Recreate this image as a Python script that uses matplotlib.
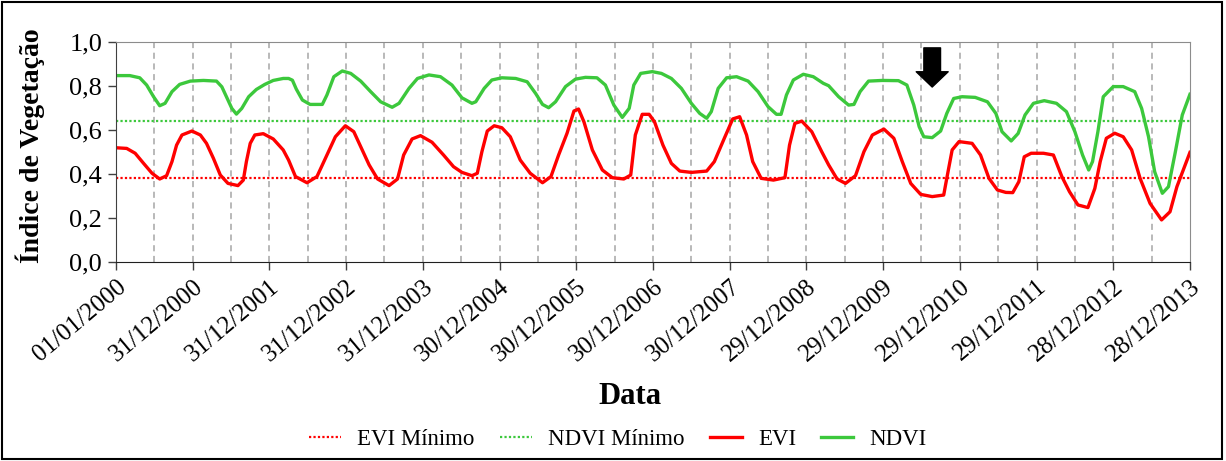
import matplotlib
matplotlib.use('Agg')
import matplotlib.pyplot as plt
from matplotlib.patches import Rectangle

# tempo em anos desde 01/01/2000 (1 ano = 365 dias no eixo)
ndvi_t = [0.00, 0.18, 0.31, 0.40, 0.49, 0.57, 0.64, 0.73, 0.83, 0.97,
          1.14, 1.31, 1.38, 1.44, 1.51, 1.57, 1.64, 1.73, 1.83, 1.94,
          2.05, 2.18, 2.25, 2.30, 2.35, 2.43, 2.53, 2.69, 2.75, 2.84,
          2.95, 3.06, 3.19, 3.32, 3.45, 3.60, 3.69, 3.82, 3.93, 4.08,
          4.23, 4.38, 4.51, 4.64, 4.69, 4.80, 4.90, 5.03, 5.21, 5.36,
          5.47, 5.56, 5.64, 5.73, 5.86, 5.99, 6.12, 6.27, 6.38, 6.49,
          6.60, 6.69, 6.75, 6.84, 6.99, 7.11, 7.24, 7.37, 7.50, 7.61,
          7.70, 7.76, 7.85, 7.96, 8.09, 8.24, 8.37, 8.50, 8.61, 8.67,
          8.74, 8.83, 8.96, 9.09, 9.22, 9.29, 9.42, 9.55, 9.62, 9.70,
          9.81, 9.99, 10.20, 10.31, 10.40, 10.47, 10.53, 10.64, 10.75, 10.83,
          10.92, 11.03, 11.20, 11.36, 11.47, 11.55, 11.67, 11.76, 11.85, 11.96,
          12.10, 12.26, 12.39, 12.50, 12.60, 12.68, 12.73, 12.80, 12.87, 13.00,
          13.13, 13.28, 13.37, 13.46, 13.54, 13.64, 13.72, 13.81, 13.90, 14.00]
ndvi = [0.846, 0.846, 0.836, 0.803, 0.750, 0.709, 0.720, 0.773, 0.806, 0.821,
        0.824, 0.821, 0.795, 0.750, 0.697, 0.671, 0.697, 0.750, 0.783, 0.806,
        0.824, 0.833, 0.833, 0.825, 0.785, 0.735, 0.715, 0.715, 0.758, 0.841,
        0.867, 0.856, 0.821, 0.773, 0.727, 0.702, 0.720, 0.788, 0.833, 0.849,
        0.841, 0.803, 0.745, 0.720, 0.727, 0.788, 0.826, 0.836, 0.833, 0.818,
        0.765, 0.715, 0.700, 0.727, 0.796, 0.830, 0.838, 0.836, 0.803, 0.712,
        0.656, 0.697, 0.803, 0.856, 0.864, 0.856, 0.833, 0.788, 0.720, 0.674,
        0.652, 0.682, 0.788, 0.836, 0.841, 0.821, 0.773, 0.705, 0.670, 0.670,
        0.758, 0.826, 0.852, 0.841, 0.811, 0.800, 0.750, 0.712, 0.715, 0.773,
        0.821, 0.824, 0.823, 0.803, 0.712, 0.614, 0.568, 0.564, 0.594, 0.674,
        0.742, 0.750, 0.747, 0.727, 0.674, 0.591, 0.549, 0.583, 0.667, 0.720,
        0.732, 0.720, 0.682, 0.591, 0.485, 0.417, 0.455, 0.591, 0.750, 0.796,
        0.796, 0.773, 0.697, 0.568, 0.409, 0.311, 0.341, 0.500, 0.667, 0.761]

evi_t = [0.00, 0.14, 0.25, 0.36, 0.47, 0.57, 0.66, 0.73, 0.79, 0.86,
         0.99, 1.10, 1.18, 1.27, 1.36, 1.46, 1.59, 1.66, 1.70, 1.75,
         1.81, 1.92, 2.05, 2.18, 2.25, 2.34, 2.49, 2.62, 2.73, 2.86,
         2.99, 3.10, 3.19, 3.30, 3.41, 3.56, 3.67, 3.75, 3.86, 3.97,
         4.12, 4.27, 4.40, 4.51, 4.64, 4.71, 4.77, 4.84, 4.93, 5.03,
         5.14, 5.27, 5.40, 5.56, 5.67, 5.77, 5.88, 5.97, 6.03, 6.10,
         6.21, 6.34, 6.47, 6.62, 6.71, 6.77, 6.86, 6.95, 7.02, 7.13,
         7.24, 7.35, 7.50, 7.70, 7.80, 7.93, 8.04, 8.13, 8.22, 8.30,
         8.41, 8.57, 8.72, 8.78, 8.85, 8.94, 9.07, 9.20, 9.29, 9.40,
         9.51, 9.64, 9.75, 9.86, 10.01, 10.14, 10.25, 10.36, 10.49, 10.64,
         10.79, 10.83, 10.90, 10.99, 11.16, 11.27, 11.38, 11.49, 11.60, 11.69,
         11.77, 11.84, 11.93, 12.09, 12.22, 12.33, 12.43, 12.54, 12.67, 12.76,
         12.83, 12.91, 13.02, 13.13, 13.24, 13.35, 13.48, 13.63, 13.74, 13.83,
         14.00]
evi = [0.518, 0.515, 0.493, 0.447, 0.402, 0.376, 0.391, 0.455, 0.530, 0.576,
       0.594, 0.576, 0.538, 0.470, 0.394, 0.356, 0.346, 0.371, 0.455, 0.538,
       0.576, 0.582, 0.558, 0.508, 0.462, 0.387, 0.359, 0.387, 0.470, 0.568,
       0.618, 0.591, 0.523, 0.440, 0.376, 0.346, 0.376, 0.485, 0.558, 0.573,
       0.543, 0.485, 0.432, 0.406, 0.391, 0.402, 0.500, 0.594, 0.618, 0.609,
       0.568, 0.462, 0.402, 0.359, 0.387, 0.485, 0.584, 0.685, 0.694, 0.636,
       0.508, 0.417, 0.382, 0.376, 0.394, 0.576, 0.670, 0.670, 0.636, 0.530,
       0.447, 0.412, 0.406, 0.412, 0.455, 0.561, 0.649, 0.659, 0.576, 0.455,
       0.379, 0.371, 0.382, 0.530, 0.629, 0.639, 0.591, 0.500, 0.440, 0.376,
       0.356, 0.391, 0.500, 0.576, 0.603, 0.561, 0.455, 0.356, 0.306, 0.296,
       0.303, 0.379, 0.508, 0.546, 0.538, 0.485, 0.379, 0.326, 0.315, 0.314,
       0.364, 0.477, 0.493, 0.493, 0.485, 0.387, 0.318, 0.258, 0.246, 0.333,
       0.455, 0.561, 0.584, 0.568, 0.508, 0.379, 0.265, 0.190, 0.227, 0.341,
       0.497]

evi_min = 0.38
ndvi_min = 0.64

tick_labels = ['01/01/2000', '31/12/2000', '31/12/2001', '31/12/2002', '31/12/2003',
               '30/12/2004', '30/12/2005', '30/12/2006', '30/12/2007', '29/12/2008',
               '29/12/2009', '29/12/2010', '29/12/2011', '28/12/2012', '28/12/2013']

seta_t = 10.64  # posicao da seta (anos)

RED = '#FF0000'
GREEN = '#3CC83C'

plt.rcParams['font.family'] = ['Liberation Serif', 'DejaVu Serif']

fig = plt.figure(figsize=(12.26, 4.61), dpi=100)
ax = fig.add_axes([0.0946, 0.4323, 0.8760, 0.4772])

x_end = 365 * (len(tick_labels) - 1)
evi_x = [t * 365 for t in evi_t]
ndvi_x = [t * 365 for t in ndvi_t]

l1, = ax.plot([0, x_end], [evi_min, evi_min], color=RED, lw=1.6, ls=(0, (1, 1)), label='EVI Mínimo')
l2, = ax.plot([0, x_end], [ndvi_min, ndvi_min], color=GREEN, lw=1.6, ls=(0, (1, 1)), label='NDVI Mínimo')
l3, = ax.plot(evi_x, evi, color=RED, lw=2.4, label='EVI', solid_joinstyle='round')
l4, = ax.plot(ndvi_x, ndvi, color=GREEN, lw=2.4, label='NDVI', solid_joinstyle='round')

# grade vertical tracejada a cada meio ano
for k in range(1, 2 * (len(tick_labels) - 1)):
    ax.axvline(k * 182.5, color='#A6A6A6', lw=1.1, ls=(0, (4, 3)), zorder=0)

ax.set_xlim(0, x_end)
ax.set_ylim(0, 1.0)
ax.set_xticks([i * 365 for i in range(len(tick_labels))])
ax.set_xticklabels(tick_labels, rotation=40, ha='right', rotation_mode='anchor', fontsize=18)
ax.set_yticks([0, 0.2, 0.4, 0.6, 0.8, 1.0])
ax.set_yticklabels(['0,0', '0,2', '0,4', '0,6', '0,8', '1,0'], fontsize=19)
ax.tick_params(axis='both', direction='out', length=6, width=1, color='#404040', pad=4)

for s in ['top', 'right']:
    ax.spines[s].set_color('#8C8C8C')
ax.spines['left'].set_color('#404040')
ax.spines['bottom'].set_color('#202020')

ax.set_ylabel('Índice de Vegetação', fontsize=20, fontweight='bold')
ax.yaxis.set_label_coords(-0.066, 0.526)
ax.set_xlabel('Data', fontsize=22, fontweight='bold')
ax.xaxis.set_label_coords(0.479, -0.545)

ax.annotate('', xy=(seta_t * 365, 0.794), xytext=(seta_t * 365, 0.972),
            arrowprops=dict(arrowstyle='simple,head_length=0.55,head_width=1.15,tail_width=0.6',
                            fc='black', ec='black', shrinkA=0, shrinkB=0, mutation_scale=20))

fig.legend(handles=[l1, l2, l3, l4], loc='center', bbox_to_anchor=(0.504, 0.046), ncol=4,
           frameon=False, fontsize=16.5, handlelength=1.4, columnspacing=1.1, handletextpad=0.7)

fig.patches.append(Rectangle((0.002, 0.004), 0.995, 0.992, transform=fig.transFigure,
                             fill=False, ec='black', lw=1.5))

fig.savefig('out.png', dpi=100)
